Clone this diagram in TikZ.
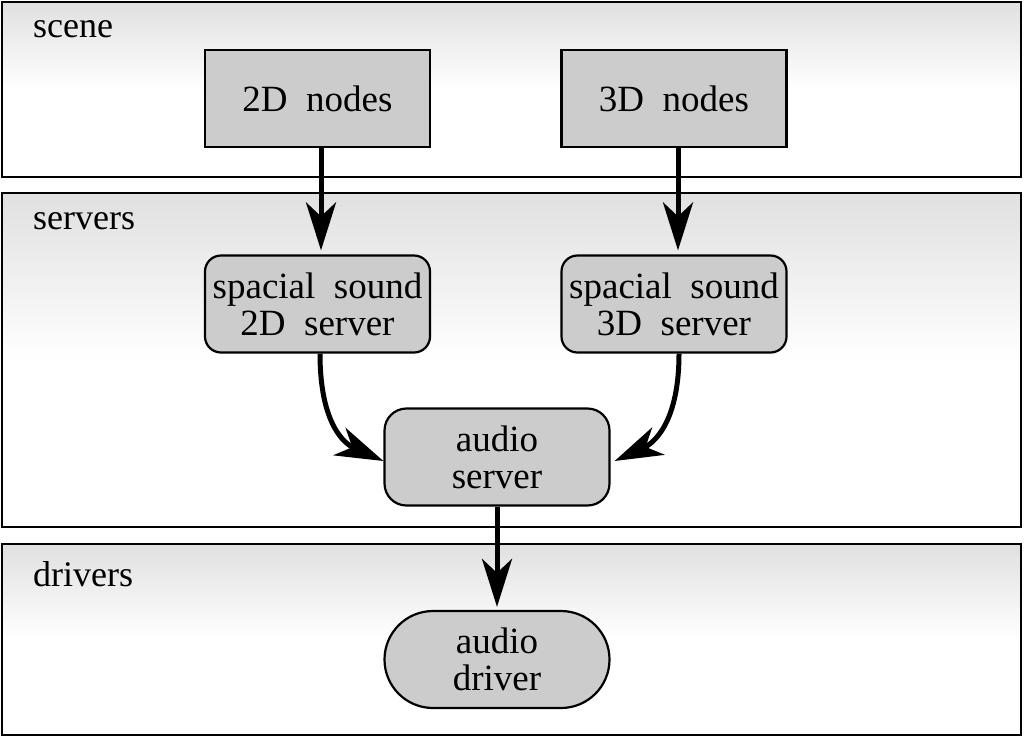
\documentclass[tikz,border=0pt]{standalone}
\usepackage{fontspec}
\setmainfont{Liberation Serif}
\usetikzlibrary{arrows.meta,shapes.misc}
\definecolor{nodefill}{HTML}{CCCCCC}
\definecolor{bandtop}{HTML}{E0E0E0}
\tikzset{
  band/.style={draw=black, line width=2.2pt, top color=bandtop, bottom color=white, middle color=white},
  bandlabel/.style={anchor=base west, font=\fontsize{36}{36}\selectfont, inner sep=0pt},
  boxbase/.style={draw=black, line width=2.2pt, fill=nodefill, align=center,
     font=\fontsize{37}{37}\selectfont, minimum width=225pt, minimum height=97pt, inner sep=0pt},
  sqbox/.style={boxbase, rectangle},
  rbox/.style={boxbase, rectangle, rounded corners=16pt},
  rbox2/.style={boxbase, rectangle, rounded corners=22pt},
  pill/.style={boxbase, rounded rectangle, rounded rectangle arc length=180},
  conn/.style={line width=5pt, -{Stealth[length=48pt, width=30pt, inset=14pt]}},
}
\begin{document}
\begin{tikzpicture}[x=1pt, y=-1pt]
\useasboundingbox (0,0) rectangle (1024,737);
% bands
\path[band] (2,2) rectangle (1021,177);
\path[band] (2,193) rectangle (1021,527);
\path[band] (2,544) rectangle (1021,735);
\node[bandlabel] (lscene) at (33,37) {scene};
\node[bandlabel] (lservers) at (33,229) {servers};
\node[bandlabel] (ldrivers) at (33,586) {drivers};
% nodes
\node[sqbox] (n2d) at (317.5,98.5) {2D\ \ nodes};
\node[sqbox] (n3d) at (674,98.5) {3D\ \ nodes};
\node[rbox] (s2d) at (317.5,304) {spacial\ \ sound\\2D\ \ server};
\node[rbox] (s3d) at (674,304) {spacial\ \ sound\\3D\ \ server};
\node[rbox2] (as) at (497,457) {audio\\server};
\node[pill] (ad) at (497,659.5) {audio\\driver};
% connectors
\draw[conn] (n2d.south -| 321,0) -- ([yshift=4pt]s2d.north -| 321,0);
\draw[conn] (n3d.south -| 678,0) -- ([yshift=4pt]s3d.north -| 678,0);
\draw[conn] (s2d.south -| 320,0) .. controls (320,425) and (345,444) .. ([yshift=-4pt]as.west);
\draw[conn] (s3d.south -| 679,0) .. controls (679,425) and (652,444) .. ([yshift=-4pt,xshift=4pt]as.east);
\draw[conn] (as.south) -- ([yshift=3pt]ad.north);
\end{tikzpicture}
\end{document}
